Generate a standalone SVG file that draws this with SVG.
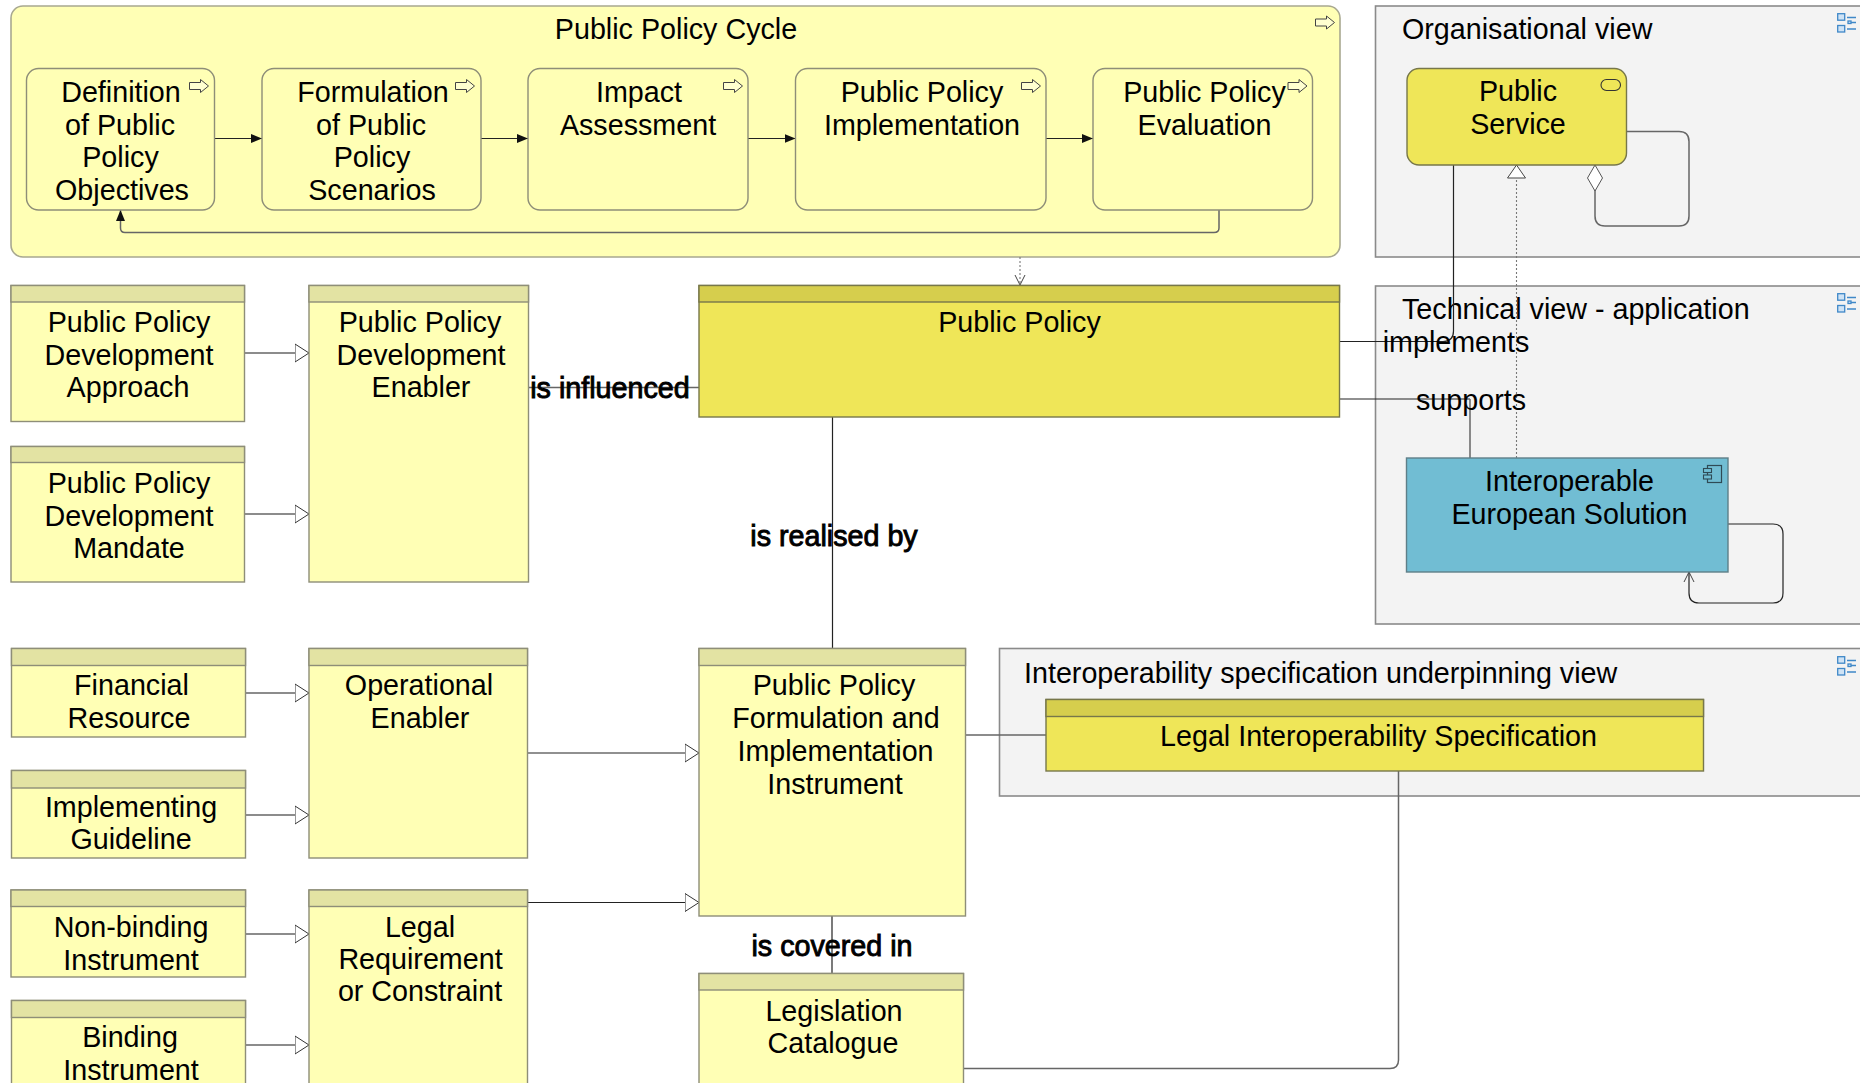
<svg xmlns="http://www.w3.org/2000/svg" xmlns:xlink="http://www.w3.org/1999/xlink" width="1860" height="1083" viewBox="0 0 1860 1083">
<style>
text{font-family:"Liberation Sans",Arial,sans-serif;font-size:28.7px;fill:#000;text-anchor:middle}
.s{text-anchor:start}
.b{stroke:#000;stroke-width:.9px}
.box{fill:#ffffb5;stroke:#8e8e78;stroke-width:1.4}
.head{fill:#e3e3a3;stroke:#8e8e78;stroke-width:1.4}
.ybox{fill:#efe658;stroke:#77774a;stroke-width:1.4}
.yhead{fill:#d6ce4d;stroke:#77774a;stroke-width:1.4}
.view{fill:#f3f3f3;stroke:#8a8a8a;stroke-width:1.6}
.c{fill:none;stroke:#222;stroke-width:1.2}
.g{fill:none;stroke:#666;stroke-width:1.5}
.d{fill:none;stroke:#777;stroke-width:1.1;stroke-dasharray:2 2}
.pa{fill:#ffffd0;stroke:#444;stroke-width:1}
.vi{fill:#cfe3f5;stroke:#3f88c8;stroke-width:1.3}
.vl{stroke:#3f88c8;stroke-width:1.3;fill:none}
</style>
<defs>
<marker id="tri" markerUnits="userSpaceOnUse" markerWidth="16" markerHeight="22" refX="14.5" refY="10" orient="auto"><path d="M.5 1 L14.5 10 L.5 19Z" fill="#fff" stroke="#333" stroke-width="1"/></marker>
<marker id="fill" markerUnits="userSpaceOnUse" markerWidth="13" markerHeight="12" refX="11" refY="5" orient="auto"><path d="M0 .5 L11 5 L0 9.5Z" fill="#111"/></marker>
<marker id="open" markerUnits="userSpaceOnUse" markerWidth="13" markerHeight="14" refX="11" refY="6" orient="auto"><path d="M1 1 L11 6 L1 11" fill="none" stroke="#444" stroke-width="1"/></marker>
<marker id="real" markerUnits="userSpaceOnUse" markerWidth="16" markerHeight="22" refX="13.5" refY="10" orient="auto"><path d="M.5 1 L13.5 10 L.5 19Z" fill="#fff" stroke="#444" stroke-width="1"/></marker>
<marker id="dia" markerUnits="userSpaceOnUse" markerWidth="29" markerHeight="18" refX="27" refY="8" orient="auto"><path d="M1 8 L14 .5 L27 8 L14 15.5Z" fill="#fff" stroke="#555" stroke-width="1"/></marker>
<symbol id="pi" width="20" height="14" viewBox="0 0 20 14" overflow="visible"><path class="pa" d="M.5 3.5H11.500V.5L19.500 7L11.500 13.500V10.500H.5Z"/></symbol>
<symbol id="vw" width="21" height="20" viewBox="0 0 21 20"><rect class="vi" x=".7" y=".7" width="7" height="6.500"/><rect class="vi" x=".7" y="12.500" width="7" height="6.500"/><path class="vl" d="M10 4.500H19M13 9.500H19M10 16H19"/><rect class="vi" x="11" y="8" width="3" height="2.500"/></symbol>
</defs>

<rect id="page" width="1860" height="1083" fill="#fff"/>

<g id="views">
<g id="view-organisational"><rect class="view" x="1375.500" y="6" width="490" height="251"/><text class="s" x="1402" y="38.500">Organisational view</text><use href="#vw" x="1837" y="13"/></g>
<g id="view-technical"><rect class="view" x="1375.500" y="286" width="490" height="338"/><text class="s" x="1402" y="319">Technical view - application</text><use href="#vw" x="1837" y="293"/></g>
<g id="view-interoperability"><rect class="view" x="999.500" y="648.500" width="866" height="147.500"/><text class="s" x="1024" y="683">Interoperability specification underpinning view</text><use href="#vw" x="1837" y="656"/></g>
</g>

<g id="node-cycle-container"><rect x="11" y="6" width="1329" height="251" rx="12" fill="#ffffb5" stroke="#a8a890" stroke-width="1.600"/><text x="676" y="39">Public Policy Cycle</text><use href="#pi" x="1315" y="15.500"/></g>

<g id="connectors">
<path class="c" marker-end="url(#fill)" d="M214 138.500H262"/>
<path class="c" marker-end="url(#fill)" d="M481 138.500H528"/>
<path class="c" marker-end="url(#fill)" d="M748 138.500H795.500"/>
<path class="c" marker-end="url(#fill)" d="M1046 138.500H1093"/>
<path class="g" marker-end="url(#fill)" d="M1219 210V228Q1219 232.500 1214 232.500H125Q120.500 232.500 120.500 228V210"/>
<path class="d" marker-end="url(#open)" d="M1020 257V285"/>
<path class="g" marker-end="url(#tri)" d="M245 353H309"/>
<path class="g" marker-end="url(#tri)" d="M245 514H309"/>
<path class="g" marker-end="url(#tri)" d="M246 693H309"/>
<path class="g" marker-end="url(#tri)" d="M246 815H309"/>
<path class="g" marker-end="url(#tri)" d="M246 934H309"/>
<path class="g" marker-end="url(#tri)" d="M246 1045H309"/>
<path class="c" marker-end="url(#tri)" d="M527 753H699"/>
<path class="c" marker-end="url(#tri)" d="M527 902.500H699"/>
<path class="g" d="M528 387.500H699"/>
<path class="c" d="M832.500 417V648"/>
<path class="c" d="M832 916V973"/>
<path class="g" d="M965.500 735H1046"/>
<path class="g" d="M1398.500 771V1060Q1398.500 1068.500 1390 1068.500H964"/>
<path class="c" d="M1453.500 165V331Q1453.500 341.500 1443 341.500H1340"/>
<path class="c" d="M1340 399H1470"/>
<path class="g" stroke-width="1.800" d="M1470 399V458"/>
<path class="d" marker-end="url(#real)" d="M1516.500 458V165"/>
<path class="g" marker-end="url(#dia)" d="M1627 131.500H1679Q1689 131.500 1689 141.500V216Q1689 226 1679 226H1605Q1595 226 1595 216V165"/>
<path class="c" marker-end="url(#open)" d="M1728 524H1773Q1783 524 1783 534V593Q1783 603 1773 603H1699Q1689 603 1689 593V572"/>
<text class="b" x="610" y="398">is influenced</text>
<text class="b" x="834" y="546">is realised by</text>
<text class="b" x="832" y="956">is covered in</text>
<text x="1456" y="352">implements</text>
<text x="1471" y="410">supports</text>
</g>

<g id="node-definition"><rect class="box" x="26.500" y="68.500" width="188" height="141.500" rx="12"/><text x="121" y="101.500">Definition</text><text x="120" y="134.500">of Public</text><text x="120.500" y="167">Policy</text><text x="122" y="199.500">Objectives</text><use href="#pi" x="189" y="79"/></g>
<g id="node-formulation"><rect class="box" x="262" y="68.500" width="219" height="141.500" rx="12"/><text x="373" y="101.500">Formulation</text><text x="371" y="134.500">of Public</text><text x="372" y="167">Policy</text><text x="372" y="199.500">Scenarios</text><use href="#pi" x="455" y="79"/></g>
<g id="node-impact"><rect class="box" x="528" y="68.500" width="220" height="141.500" rx="12"/><text x="639" y="101.500">Impact</text><text x="638" y="134.500">Assessment</text><use href="#pi" x="723" y="79"/></g>
<g id="node-implementation"><rect class="box" x="795.500" y="68.500" width="250.500" height="141.500" rx="12"/><text x="922" y="101.500">Public Policy</text><text x="922" y="134.500">Implementation</text><use href="#pi" x="1021" y="79"/></g>
<g id="node-evaluation"><rect class="box" x="1093" y="68.500" width="219.500" height="141.500" rx="12"/><text x="1204.500" y="101.500">Public Policy</text><text x="1204.500" y="134.500">Evaluation</text><use href="#pi" x="1287.500" y="79"/></g>

<g id="node-approach"><rect class="box" x="11" y="285.500" width="233.500" height="136"/><rect class="head" x="11" y="285.500" width="233.500" height="16.500"/><text x="129" y="332">Public Policy</text><text x="129" y="364.500">Development</text><text x="128" y="397">Approach</text></g>
<g id="node-mandate"><rect class="box" x="11" y="446.500" width="233.500" height="135.500"/><rect class="head" x="11" y="446.500" width="233.500" height="16"/><text x="129" y="492.500">Public Policy</text><text x="129" y="525.500">Development</text><text x="129" y="558">Mandate</text></g>
<g id="node-dev-enabler"><rect class="box" x="309" y="285.500" width="219.500" height="296.500"/><rect class="head" x="309" y="285.500" width="219.500" height="16.500"/><text x="420" y="332">Public Policy</text><text x="421" y="364.500">Development</text><text x="421" y="397">Enabler</text></g>

<g id="node-public-policy"><rect class="ybox" x="699" y="285.500" width="640.500" height="131.500"/><rect class="yhead" x="699" y="285.500" width="640.500" height="16.500"/><text x="1019.500" y="332">Public Policy</text></g>

<g id="node-public-service"><rect class="ybox" x="1407" y="68.500" width="219.500" height="96.500" rx="12"/><text x="1518" y="101">Public</text><text x="1518" y="133.500">Service</text><rect x="1601" y="79.500" width="19.500" height="11" rx="5.500" fill="#efe658" stroke="#333" stroke-width="1.100"/></g>

<g id="node-solution"><rect x="1406.500" y="458" width="321.500" height="114" fill="#71bdd3" stroke="#5f7f88" stroke-width="1.400"/><text x="1569.500" y="490.500">Interoperable</text><text x="1569.500" y="523.500">European Solution</text><rect x="1707.500" y="465.500" width="14" height="17" fill="#71bdd3" stroke="#2f4a55" stroke-width="1.200"/><rect x="1703.500" y="468.500" width="8" height="4" fill="#71bdd3" stroke="#2f4a55" stroke-width="1.100"/><rect x="1703.500" y="475" width="8" height="4" fill="#71bdd3" stroke="#2f4a55" stroke-width="1.100"/></g>

<g id="node-financial"><rect class="box" x="11.500" y="648.500" width="234" height="88.500"/><rect class="head" x="11.500" y="648.500" width="234" height="17"/><text x="131.500" y="695">Financial</text><text x="129" y="728">Resource</text></g>
<g id="node-implementing"><rect class="box" x="11.500" y="770.500" width="234" height="87.500"/><rect class="head" x="11.500" y="770.500" width="234" height="17.500"/><text x="131" y="817">Implementing</text><text x="131" y="849">Guideline</text></g>
<g id="node-non-binding"><rect class="box" x="11" y="890" width="234.500" height="87"/><rect class="head" x="11" y="890" width="234.500" height="16.500"/><text x="131" y="937">Non-binding</text><text x="131" y="969.500">Instrument</text></g>
<g id="node-binding"><rect class="box" x="11.500" y="1000.500" width="234" height="100"/><rect class="head" x="11.500" y="1000.500" width="234" height="17"/><text x="130" y="1047">Binding</text><text x="131" y="1079.500">Instrument</text></g>
<g id="node-operational"><rect class="box" x="309" y="648.500" width="218.500" height="209.500"/><rect class="head" x="309" y="648.500" width="218.500" height="17"/><text x="419" y="695">Operational</text><text x="420" y="728">Enabler</text></g>
<g id="node-legal"><rect class="box" x="309" y="890" width="218.500" height="210"/><rect class="head" x="309" y="890" width="218.500" height="16.500"/><text x="420" y="936.500">Legal</text><text x="420.500" y="969">Requirement</text><text x="420" y="1001">or Constraint</text></g>
<g id="node-instrument"><rect class="box" x="699" y="648.500" width="266.500" height="267.500"/><rect class="head" x="699" y="648.500" width="266.500" height="17"/><text x="834" y="695">Public Policy</text><text x="836" y="728">Formulation and</text><text x="835.500" y="761">Implementation</text><text x="835" y="793.500">Instrument</text></g>
<g id="node-legislation"><rect class="box" x="699" y="973.500" width="264.500" height="130"/><rect class="head" x="699" y="973.500" width="264.500" height="16.500"/><text x="834" y="1020.500">Legislation</text><text x="833" y="1053">Catalogue</text></g>
<g id="node-legal-spec"><rect class="ybox" x="1046" y="699.500" width="657.500" height="71.500"/><rect class="yhead" x="1046" y="699.500" width="657.500" height="17"/><text x="1378.500" y="746">Legal Interoperability Specification</text></g>
</svg>
